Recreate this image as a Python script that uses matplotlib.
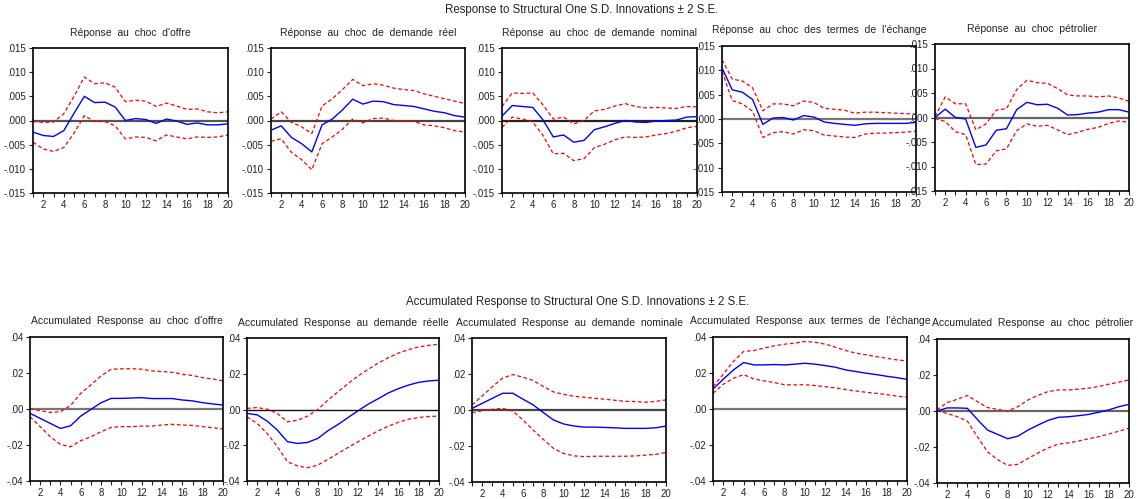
import numpy as np
import matplotlib
matplotlib.use("Agg")
import matplotlib.pyplot as plt
from matplotlib.ticker import FuncFormatter, MultipleLocator

plt.rcParams["font.family"] = ["Liberation Sans", "DejaVu Sans"]

periods = list(range(1, 21))

# Réponses impulsionnelles (ligne du haut)
offre_irf = [-0.0024, -0.0031, -0.0033, -0.0021, 0.0015, 0.0050, 0.0037, 0.0038, 0.0028, 0.0000,
             0.0004, 0.0002, -0.0006, 0.0003, -0.0001, -0.0008, -0.0005, -0.0009, -0.0009, -0.0007]
offre_hi = [-0.0002, -0.0004, -0.0003, 0.0014, 0.0050, 0.0090, 0.0076, 0.0078, 0.0069, 0.0039,
            0.0042, 0.0040, 0.0029, 0.0036, 0.0030, 0.0023, 0.0024, 0.0018, 0.0016, 0.0018]
offre_lo = [-0.0045, -0.0059, -0.0064, -0.0056, -0.0026, 0.0010, -0.0002, -0.0002, -0.0011, -0.0038,
            -0.0034, -0.0035, -0.0042, -0.0030, -0.0034, -0.0038, -0.0034, -0.0035, -0.0034, -0.0030]

reel_irf = [-0.0020, -0.0011, -0.0035, -0.0048, -0.0065, -0.0009, 0.0003, 0.0022, 0.0044, 0.0034,
            0.0040, 0.0039, 0.0033, 0.0031, 0.0029, 0.0024, 0.0019, 0.0016, 0.0010, 0.0007]
reel_hi = [0.0003, 0.0018, -0.0004, -0.0013, -0.0027, 0.0030, 0.0045, 0.0064, 0.0085, 0.0072,
           0.0076, 0.0073, 0.0067, 0.0064, 0.0062, 0.0055, 0.0050, 0.0045, 0.0040, 0.0035]
reel_lo = [-0.0043, -0.0038, -0.0066, -0.0081, -0.0102, -0.0048, -0.0034, -0.0018, 0.0003, -0.0005,
           0.0004, 0.0005, 0.0000, -0.0001, -0.0002, -0.0009, -0.0011, -0.0015, -0.0021, -0.0024]

nominal_irf = [0.0009, 0.0031, 0.0029, 0.0027, 0.0001, -0.0034, -0.0030, -0.0045, -0.0041, -0.0019,
               -0.0013, -0.0006, 0.0000, -0.0003, -0.0004, -0.0001, 0.0000, 0.0001, 0.0007, 0.0008]
nominal_hi = [0.0029, 0.0057, 0.0056, 0.0057, 0.0032, 0.0003, 0.0007, -0.0007, 0.0000, 0.0020,
              0.0023, 0.0030, 0.0035, 0.0029, 0.0026, 0.0027, 0.0026, 0.0025, 0.0029, 0.0028]
nominal_lo = [-0.0014, 0.0007, 0.0003, -0.0003, -0.0031, -0.0069, -0.0068, -0.0083, -0.0079, -0.0056,
              -0.0049, -0.0040, -0.0034, -0.0035, -0.0034, -0.0030, -0.0027, -0.0022, -0.0015, -0.0012]

termes_irf = [0.0105, 0.0060, 0.0055, 0.0040, -0.0011, 0.0002, 0.0003, -0.0002, 0.0007, 0.0004,
              -0.0006, -0.0009, -0.0011, -0.0013, -0.0010, -0.0009, -0.0009, -0.0009, -0.0009, -0.0007]
termes_hi = [0.0122, 0.0082, 0.0078, 0.0064, 0.0017, 0.0031, 0.0031, 0.0027, 0.0037, 0.0034,
             0.0022, 0.0020, 0.0018, 0.0012, 0.0014, 0.0014, 0.0013, 0.0012, 0.0011, 0.0010]
termes_lo = [0.0098, 0.0038, 0.0031, 0.0016, -0.0038, -0.0028, -0.0026, -0.0031, -0.0022, -0.0024,
             -0.0033, -0.0035, -0.0037, -0.0038, -0.0031, -0.0029, -0.0029, -0.0028, -0.0027, -0.0025]

petrole_irf = [0.0000, 0.0017, 0.0000, -0.0003, -0.0061, -0.0056, -0.0026, -0.0023, 0.0016, 0.0031,
               0.0026, 0.0027, 0.0019, 0.0005, 0.0006, 0.0009, 0.0011, 0.0016, 0.0016, 0.0011]
petrole_hi = [0.0002, 0.0042, 0.0028, 0.0028, -0.0025, -0.0013, 0.0015, 0.0018, 0.0057, 0.0076,
              0.0071, 0.0070, 0.0059, 0.0046, 0.0044, 0.0044, 0.0042, 0.0044, 0.0040, 0.0033]
petrole_lo = [-0.0002, -0.0008, -0.0029, -0.0035, -0.0096, -0.0095, -0.0068, -0.0064, -0.0027, -0.0013,
              -0.0018, -0.0016, -0.0025, -0.0035, -0.0030, -0.0024, -0.0020, -0.0012, -0.0007, -0.0010]

# Réponses cumulées (ligne du bas)
acc_offre_irf = [-0.0024, -0.0052, -0.0080, -0.0108, -0.0093, -0.0039, -0.0002, 0.0035, 0.0059, 0.0059,
                 0.0061, 0.0063, 0.0058, 0.0058, 0.0058, 0.0050, 0.0045, 0.0035, 0.0028, 0.0022]
acc_offre_hi = [0.0000, -0.0009, -0.0019, -0.0015, 0.0020, 0.0087, 0.0134, 0.0184, 0.0221, 0.0223,
                0.0224, 0.0221, 0.0212, 0.0208, 0.0204, 0.0193, 0.0186, 0.0174, 0.0167, 0.0156]
acc_offre_lo = [-0.0043, -0.0098, -0.0154, -0.0197, -0.0210, -0.0176, -0.0154, -0.0126, -0.0102, -0.0098,
                -0.0098, -0.0095, -0.0095, -0.0089, -0.0085, -0.0089, -0.0091, -0.0098, -0.0104, -0.0111]

acc_reel_irf = [-0.0022, -0.0030, -0.0065, -0.0115, -0.0180, -0.0190, -0.0184, -0.0162, -0.0119, -0.0084,
                -0.0045, -0.0007, 0.0030, 0.0061, 0.0093, 0.0117, 0.0137, 0.0152, 0.0160, 0.0164]
acc_reel_hi = [0.0006, 0.0011, 0.0002, -0.0022, -0.0069, -0.0060, -0.0037, 0.0000, 0.0052, 0.0099,
               0.0145, 0.0188, 0.0225, 0.0260, 0.0290, 0.0316, 0.0335, 0.0350, 0.0359, 0.0365]
acc_reel_lo = [-0.0041, -0.0078, -0.0134, -0.0208, -0.0292, -0.0316, -0.0326, -0.0311, -0.0279, -0.0246,
               -0.0212, -0.0180, -0.0149, -0.0119, -0.0093, -0.0071, -0.0054, -0.0045, -0.0039, -0.0037]

acc_nominal_irf = [0.0009, 0.0037, 0.0065, 0.0093, 0.0093, 0.0060, 0.0028, -0.0015, -0.0056, -0.0078,
                   -0.0089, -0.0095, -0.0095, -0.0097, -0.0099, -0.0102, -0.0102, -0.0102, -0.0099, -0.0089]
acc_nominal_hi = [0.0028, 0.0078, 0.0130, 0.0177, 0.0197, 0.0182, 0.0164, 0.0130, 0.0100, 0.0087,
                  0.0076, 0.0071, 0.0065, 0.0060, 0.0054, 0.0048, 0.0047, 0.0043, 0.0048, 0.0056]
acc_nominal_lo = [-0.0015, -0.0004, 0.0004, 0.0009, -0.0006, -0.0056, -0.0112, -0.0164, -0.0214, -0.0242,
                  -0.0255, -0.0259, -0.0257, -0.0257, -0.0257, -0.0257, -0.0255, -0.0251, -0.0246, -0.0236]

acc_termes_irf = [0.0111, 0.0165, 0.0217, 0.0258, 0.0245, 0.0245, 0.0247, 0.0245, 0.0249, 0.0254,
                  0.0249, 0.0241, 0.0232, 0.0217, 0.0208, 0.0199, 0.0191, 0.0182, 0.0174, 0.0165]
acc_termes_hi = [0.0124, 0.0193, 0.0264, 0.0320, 0.0325, 0.0338, 0.0351, 0.0360, 0.0366, 0.0375,
                 0.0371, 0.0360, 0.0343, 0.0325, 0.0310, 0.0301, 0.0291, 0.0282, 0.0273, 0.0267]
acc_termes_lo = [0.0087, 0.0137, 0.0171, 0.0191, 0.0167, 0.0156, 0.0147, 0.0135, 0.0134, 0.0135,
                 0.0130, 0.0124, 0.0117, 0.0108, 0.0100, 0.0093, 0.0087, 0.0080, 0.0072, 0.0065]

acc_petrole_irf = [0.0000, 0.0017, 0.0017, 0.0015, -0.0047, -0.0106, -0.0130, -0.0154, -0.0140, -0.0106,
                   -0.0078, -0.0052, -0.0035, -0.0032, -0.0026, -0.0019, -0.0007, 0.0006, 0.0024, 0.0037]
acc_petrole_hi = [0.0006, 0.0047, 0.0065, 0.0086, 0.0052, 0.0019, 0.0009, 0.0000, 0.0024, 0.0061,
                  0.0087, 0.0108, 0.0117, 0.0117, 0.0121, 0.0127, 0.0136, 0.0149, 0.0160, 0.0173]
acc_petrole_lo = [0.0000, -0.0013, -0.0032, -0.0056, -0.0143, -0.0227, -0.0270, -0.0302, -0.0296, -0.0264,
                  -0.0233, -0.0205, -0.0184, -0.0177, -0.0167, -0.0154, -0.0143, -0.0128, -0.0112, -0.0095]

top_titles = ["Réponse  au  choc  d'offre", "Réponse  au  choc  de  demande  réel",
              "Réponse  au  choc  de  demande  nominal", "Réponse  au  choc  des  termes  de  l'échange",
              "Réponse  au  choc  pétrolier"]
bottom_titles = ["Accumulated  Response  au  choc  d'offre", "Accumulated  Response  au  demande  réelle",
                 "Accumulated  Response  au  demande  nominale", "Accumulated  Response  aux  termes  de  l'échange",
                 "Accumulated  Response  au  choc  pétrolier"]

top_series = [(offre_irf, offre_hi, offre_lo), (reel_irf, reel_hi, reel_lo),
              (nominal_irf, nominal_hi, nominal_lo), (termes_irf, termes_hi, termes_lo),
              (petrole_irf, petrole_hi, petrole_lo)]
bottom_series = [(acc_offre_irf, acc_offre_hi, acc_offre_lo), (acc_reel_irf, acc_reel_hi, acc_reel_lo),
                 (acc_nominal_irf, acc_nominal_hi, acc_nominal_lo), (acc_termes_irf, acc_termes_hi, acc_termes_lo),
                 (acc_petrole_irf, acc_petrole_hi, acc_petrole_lo)]

# positions des panneaux en pixels: gauche, droite, haut, bas
W, H = 1138, 499
top_boxes = [(33, 228, 48, 193), (271, 465, 48, 193), (502, 697, 48, 193),
             (722, 916, 46, 192), (935, 1129, 44, 191)]
bottom_boxes = [(30, 223, 337, 481), (247, 439, 338, 481), (472, 666, 338, 482),
                (713, 907, 337, 481), (937, 1129, 339, 483)]
top_zero_col = ["#555555", "#444444", "#222222", "#777777", "#666666"]
bottom_zero_col = ["#777777", "#111111", "#444444", "#777777", "#666666"]


def fmt(v, pos, nd):
    s = f"{v:.{nd}f}"
    if abs(v) < 1e-12:
        s = f"{0:.{nd}f}"
    return s.replace("0.", ".", 1)


def draw_panel(fig, box, series, title, ylim, ystep, nd, zcol):
    l, r, t, b = box
    ax = fig.add_axes([l / W, 1 - b / H, (r - l) / W, (b - t) / H])
    irf, hi, lo = series
    ax.axhline(0, color=zcol, lw=1.6 if zcol != "#111111" else 1.0, zorder=1)
    ax.plot(periods, irf, color="#0000ff", lw=1.0, zorder=3)
    ax.plot(periods, hi, color="#ff0000", lw=0.9, ls=(0, (3, 2)), zorder=2)
    ax.plot(periods, lo, color="#ff0000", lw=0.9, ls=(0, (3, 2)), zorder=2)
    ax.set_xlim(1, 20)
    ax.set_ylim(*ylim)
    ax.set_xticks(periods, minor=True)
    ax.set_xticks(range(2, 21, 2))
    ax.yaxis.set_major_locator(MultipleLocator(ystep))
    ax.yaxis.set_major_formatter(FuncFormatter(lambda v, p: fmt(v, p, nd)))
    ax.tick_params(axis="both", which="both", direction="out", length=3, width=0.8,
                   labelsize=7, colors="#222222", pad=2)
    for sp in ax.spines.values():
        sp.set_linewidth(1.2)
        sp.set_color("black")
    ax.set_title(title, fontsize=7.5, pad=9, color="#222222")
    return ax


fig = plt.figure(figsize=(W / 100, H / 100), dpi=100)

for box, ser, title, zc in zip(top_boxes, top_series, top_titles, top_zero_col):
    draw_panel(fig, box, ser, title, (-0.015, 0.015), 0.005, 3, zc)
for box, ser, title, zc in zip(bottom_boxes, bottom_series, bottom_titles, bottom_zero_col):
    draw_panel(fig, box, ser, title, (-0.04, 0.04), 0.02, 2, zc)

fig.text(582 / W, 1 - 10 / H, "Response to Structural One S.D. Innovations ± 2 S.E.",
         ha="center", va="center", fontsize=8.3, color="#222222")
fig.text(578 / W, 1 - 302 / H, "Accumulated Response to Structural One S.D. Innovations ± 2 S.E.",
         ha="center", va="center", fontsize=8.3, color="#222222")

fig.savefig("out.png", dpi=100)
